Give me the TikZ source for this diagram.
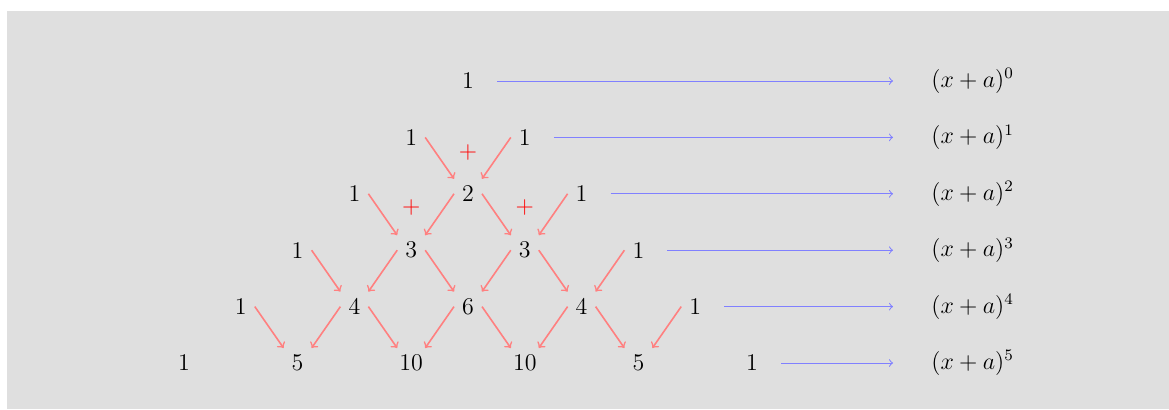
\documentclass[tikz,border=0pt]{standalone}
\usetikzlibrary{calc}
\begin{document}
\begin{tikzpicture}[x=0.5pt,y=-0.5pt,
  every node/.style={font=\fontsize{12}{14.4}\selectfont},
  num/.style={inner sep=0pt},
  sumarrow/.style={->,red!50,line width=0.8pt},
  rowarrow/.style={->,blue!50,line width=0.5pt},
  plussign/.style={inner sep=0pt,text=red}]
\useasboundingbox (0,0) rectangle (1169,409);
\fill[gray!25] (7,11) rectangle (1169,409);
% Pascal numbers
\def\rowA{1}
\foreach \r/\vals in {0/{1},1/{1,1},2/{1,2,1},3/{1,3,3,1},4/{1,4,6,4,1},5/{1,5,10,10,5,1}}{
  \foreach \v [count=\i from 0] in \vals {
    \node[num] (n\r-\i) at ({468+(2*\i-\r)*56.8},{81+\r*56.4}) {\v};
  }
}
% sum arrows
\foreach \r in {1,...,4}{
  \pgfmathtruncatemacro{\rn}{\r+1}
  \foreach \k in {1,...,\r}{
    \pgfmathtruncatemacro{\km}{\k-1}
    \draw[sumarrow] ($(n\r-\km)+(14,0)$) -- ($(n\rn-\k)+(-14,-15)$);
    \draw[sumarrow] ($(n\r-\k)+(-14,0)$) -- ($(n\rn-\k)+(14,-15)$);
  }
}
% plus signs
\node[plussign] (p1) at ($(n1-0)!0.5!(n1-1)+(0,15)$) {$+$};
\node[plussign] (p2) at ($(n2-0)!0.5!(n2-1)+(0,14)$) {$+$};
\node[plussign] (p3) at ($(n2-1)!0.5!(n2-2)+(0,14)$) {$+$};
% labels and row arrows
\foreach \r in {0,...,5}{
  \node[inner sep=0pt,anchor=west] (l\r) at (931,{81+\r*56.4}) {$(x+a)^{\r}$};
  \coordinate (e\r) at ($(l\r.west)+(-38,0)$);
  \draw[rowarrow] ($(n\r-\r)+(29,0)$) -- (e\r);
}
\end{tikzpicture}
\end{document}
